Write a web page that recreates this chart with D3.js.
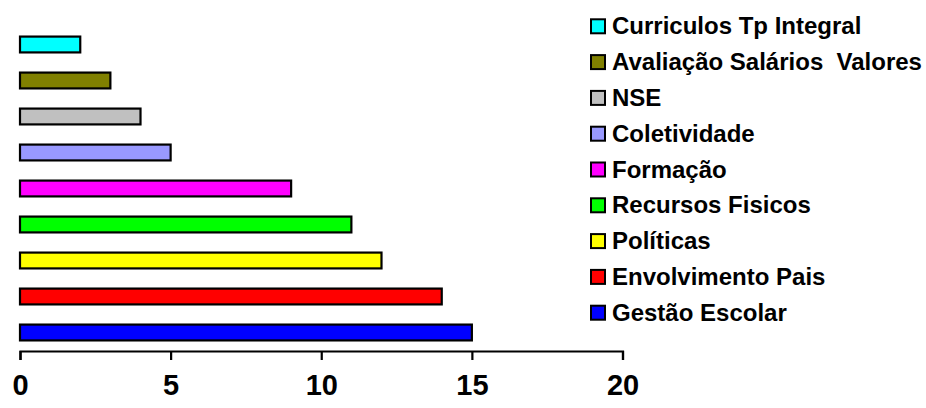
<!DOCTYPE html>
<html>
<head>
<meta charset="utf-8">
<script src="https://cdn.jsdelivr.net/npm/d3@7"></script>
<style>
  html, body { margin: 0; padding: 0; background: #fff; }
  svg { display: block; }
  text { font-family: "Liberation Sans", Arial, sans-serif; font-weight: bold; fill: #000; }
</style>
</head>
<body>
<svg id="chart" width="926" height="408"></svg>
<script>
// Categories, top to bottom
const categories = [
  "Curriculos Tp Integral",
  "Avaliação Salários  Valores",
  "NSE",
  "Coletividade",
  "Formação",
  "Recursos Fisicos",
  "Políticas",
  "Envolvimento Pais",
  "Gestão Escolar"
];
const values = [2, 3, 4, 5, 9, 11, 12, 14, 15];
const colors = ["#00ffff", "#808000", "#c0c0c0", "#9999ff", "#ff00ff", "#00ff00", "#ffff00", "#ff0000", "#0000ff"];
const tickValues = [0, 5, 10, 15, 20];

const svg = d3.select("#chart");

const x = d3.scaleLinear().domain([0, 20]).range([20, 622.5]);
const y = d3.scaleBand()
  .domain(categories)
  .range([26.5, 350.5])
  .paddingInner(0.56)
  .paddingOuter(0.28);

// Bars
svg.append("g")
  .selectAll("rect")
  .data(categories)
  .join("rect")
  .attr("x", x(0))
  .attr("y", d => y(d))
  .attr("width", (d, i) => x(values[i]) - x(0))
  .attr("height", y.bandwidth())
  .attr("fill", (d, i) => colors[i])
  .attr("stroke", "#000")
  .attr("stroke-width", 2.2);

// Value axis
const axis = svg.append("g")
  .attr("transform", "translate(0,351)")
  .call(d3.axisBottom(x).tickValues(tickValues).tickSize(9).tickSizeOuter(9).tickPadding(14));
axis.select(".domain").attr("stroke", "#000").attr("stroke-width", 2.2);
axis.selectAll(".tick line").attr("stroke", "#000").attr("stroke-width", 2.2);
axis.selectAll(".tick text")
  .attr("font-size", 29)
  .attr("font-family", "'Liberation Sans', Arial, sans-serif")
  .attr("font-weight", "bold")
  .attr("fill", "#000");

// Legend
const legend = svg.append("g");
const rowStep = 35.8;
const row = legend.selectAll("g")
  .data(categories)
  .join("g")
  .attr("transform", (d, i) => `translate(591,${26.3 + i * rowStep})`);
row.append("rect")
  .attr("x", 0)
  .attr("y", -7)
  .attr("width", 14)
  .attr("height", 14)
  .attr("fill", (d, i) => colors[i])
  .attr("stroke", "#000")
  .attr("stroke-width", 2);
row.append("text")
  .attr("x", 21)
  .attr("y", 8)
  .attr("font-size", 24)
  .style("white-space", "pre")
  .text(d => d);
</script>
</body>
</html>
